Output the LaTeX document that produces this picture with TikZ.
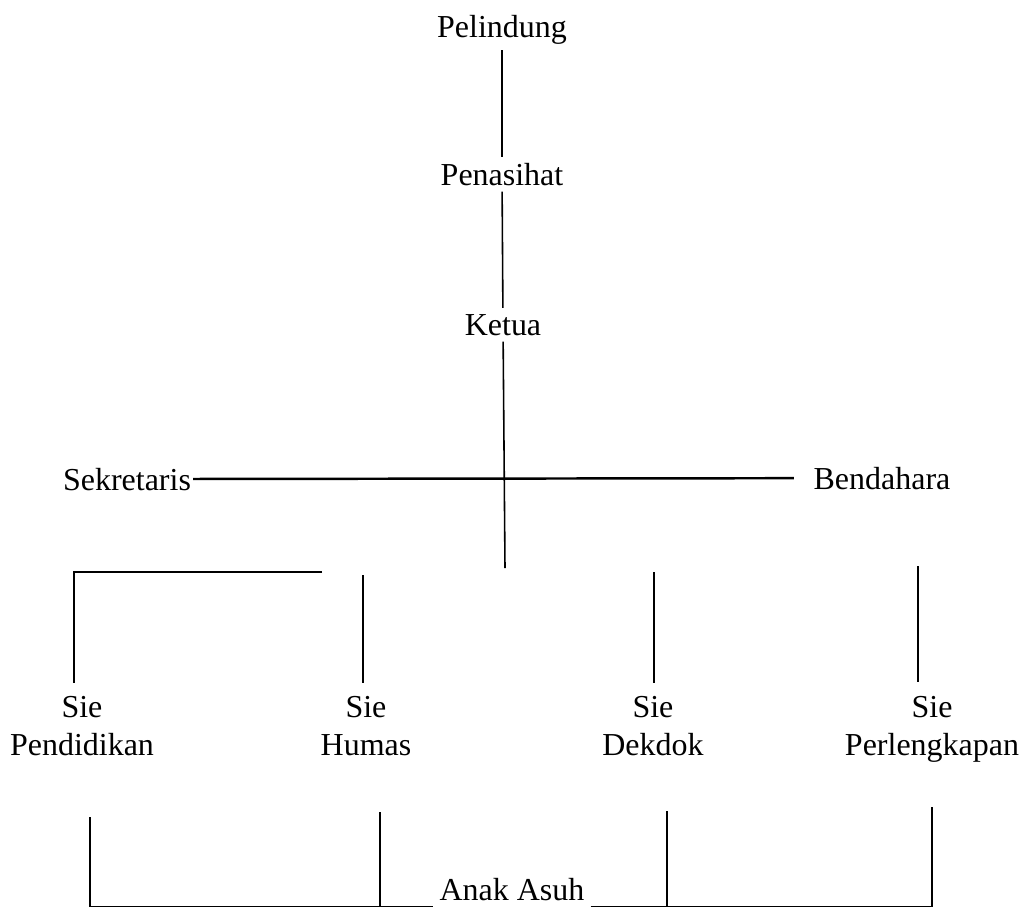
\documentclass[tikz,border=0pt]{standalone}
\usepackage{fontspec}
\setmainfont{Liberation Serif}
\usepackage{tikz}
\tikzstyle{jabatan} = [font={\fontsize{18.2}{21.6}\selectfont}]
\tikzstyle{samping} = [jabatan, inner xsep=1pt]
\tikzstyle{sie} = [jabatan, align=center, inner ysep=7.5pt]
\tikzstyle{garis} = [line width=0.9pt]

\begin{document}
\begin{tikzpicture}[x=0.02cm,y=-0.02cm]
    \useasboundingbox (0,0) rectangle (1027,917);
    \node[jabatan,anchor=base](0) at (502,37){Pelindung};
    \node[jabatan,anchor=base](1) at (502,185){Penasihat};
    \node[jabatan,anchor=base](2) at (503,335){Ketua};
    \node[samping,anchor=base](3) at (127,490){Sekretaris};
    \node[samping,anchor=base,inner xsep=11pt](4) at (882,489){Bendahara};
    \node[sie](5) at (82,726){Sie\\Pendidikan};
    \node[sie](6) at (366,726){Sie\\Humas};
    \node[sie](7) at (653,726){Sie\\Dekdok};
    \node[sie](8) at (932,729){Sie\\Perlengkapan};
    \node[jabatan,anchor=base](9) at (512,900){Anak Asuh};
    \coordinate(2b) at (505,568);
    \coordinate(5a) at (322,572);
    \coordinate(5t) at (74,572);
    \coordinate(6t) at (363,575);
    \coordinate(7t) at (654,572);
    \coordinate(8t) at (918,566);
    \coordinate(5b) at (90,817);
    \coordinate(6b) at (380,812);
    \coordinate(7b) at (667,811);
    \coordinate(8b) at (932,807);
    \draw[garis](0)--(1);
    \draw[garis](1)--(2);
    \draw[garis](2)--(2b);
    \draw[garis,line width=1.4pt](3)--(4);
    \draw[garis](5a)--(5t)--(5t |- 5.north);
    \draw[garis](6t)--(6t |- 6.north);
    \draw[garis](7t)--(7t |- 7.north);
    \draw[garis](8t)--(8t |- 8.north);
    \draw[garis](5b)|-(9.south west);
    \draw[garis](6b)--(6b |- 9.south west);
    \draw[garis](7b)--(7b |- 9.south east);
    \draw[garis](9.south east)-|(8b);
\end{tikzpicture}
\end{document}
